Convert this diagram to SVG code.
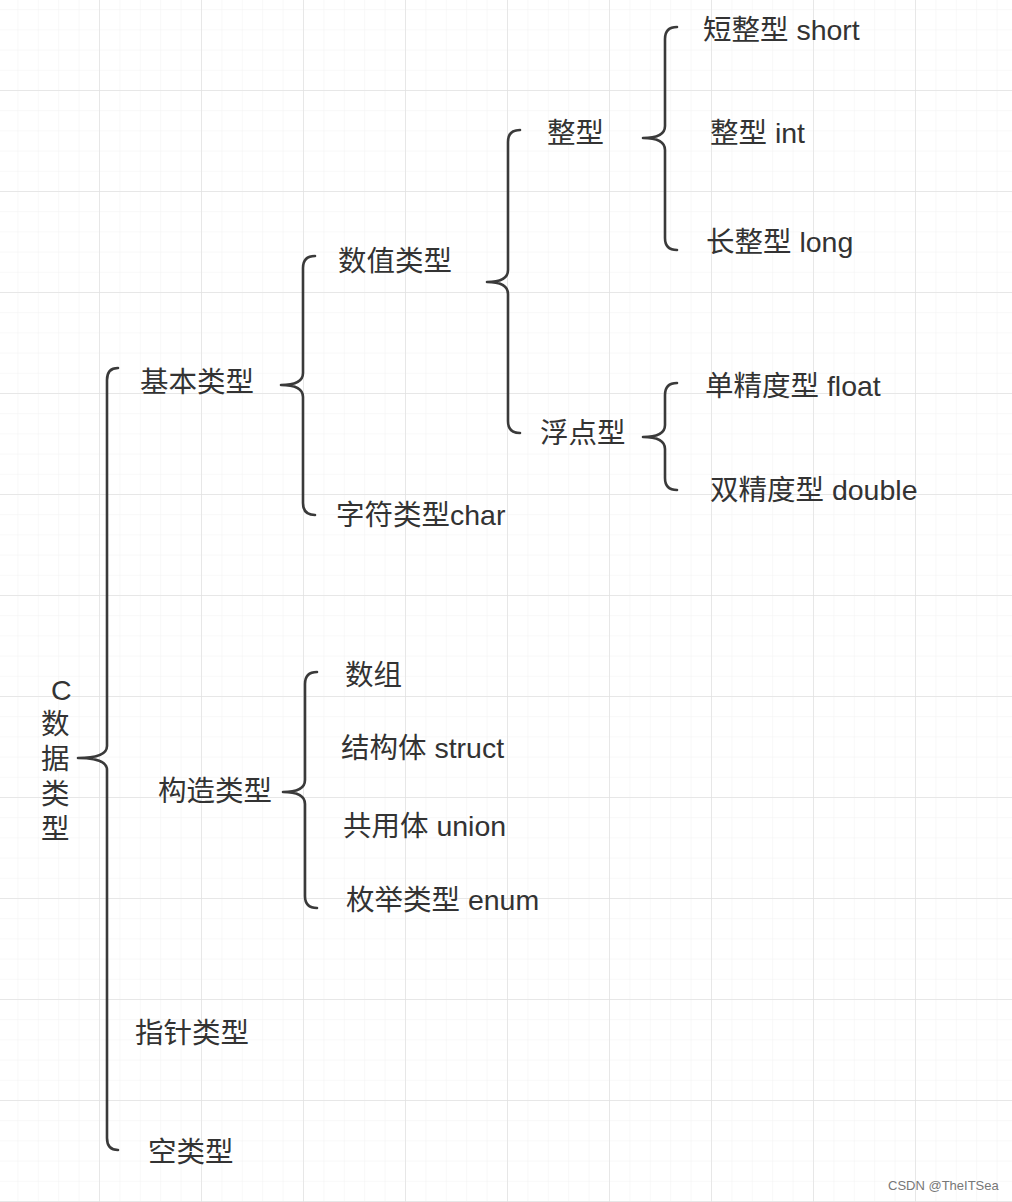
<svg xmlns="http://www.w3.org/2000/svg" width="1012" height="1202" viewBox="0 0 1012 1202">
<style>
.t{font-family:"Liberation Sans","Noto Sans CJK SC",sans-serif;font-size:28.5px;fill:#333;dominant-baseline:central}
.b{fill:none;stroke:#3a3a3a;stroke-width:2.6;stroke-linecap:round;stroke-linejoin:round}
.wm{font-family:"Liberation Sans",Arial,sans-serif;font-size:13px;fill:#777}
</style>
<defs>
<pattern id="minor" patternUnits="userSpaceOnUse" x="99" y="90" width="20.4" height="20.2">
<path d="M0 0V20.2M0 0H20.4" stroke="#f2f2f2" stroke-width="1" fill="none"/>
</pattern>
<pattern id="major" patternUnits="userSpaceOnUse" x="99" y="90" width="102" height="101">
<path d="M0 0V101M0 0H102" stroke="#e2e2e2" stroke-width="1.5" fill="none"/>
</pattern>
</defs>
<rect width="1012" height="1202" fill="#fff"/>
<rect width="1012" height="1202" fill="url(#minor)"/>
<rect width="1012" height="1202" fill="url(#major)"/>
<g id="connectors">
<path class="b" d="M118 368 Q107 368 107 380 V746 Q107 758 78 758 Q107 758 107 770 V1138 Q107 1150 118 1150"/>
<path class="b" d="M315 256 Q303 256 303 268 V373 Q303 385 281 385 Q303 385 303 397 V503 Q303 515 315 515"/>
<path class="b" d="M520 130 Q508 130 508 142 V270 Q508 282 487 282 Q508 282 508 294 V421 Q508 433 520 433"/>
<path class="b" d="M677 27 Q665 27 665 39 V126 Q665 138 643 138 Q665 138 665 150 V238 Q665 250 677 250"/>
<path class="b" d="M677 383 Q665 383 665 395 V425 Q665 437 643 437 Q665 437 665 449 V478 Q665 490 677 490"/>
<path class="b" d="M317 672 Q305 672 305 684 V780 Q305 792 283 792 Q305 792 305 804 V896 Q305 908 317 908"/>
</g>
<g id="root"><text class="t" x="51" y="690">C</text><text class="t" x="41" y="724">数</text><text class="t" x="41" y="759">据</text><text class="t" x="41" y="794">类</text><text class="t" x="41" y="829">型</text></g>
<g id="n-basic"><text class="t" x="140" y="382">基本类型</text></g>
<g id="n-numeric"><text class="t" x="338" y="261">数值类型</text></g>
<g id="n-int"><text class="t" x="547" y="133">整型</text></g>
<g id="n-short"><text class="t" x="703" y="30">短整型 short</text></g>
<g id="n-intint"><text class="t" x="710" y="133">整型 int</text></g>
<g id="n-long"><text class="t" x="706" y="242">长整型 long</text></g>
<g id="n-float-group"><text class="t" x="540" y="433">浮点型</text></g>
<g id="n-float"><text class="t" x="705" y="386">单精度型 float</text></g>
<g id="n-double"><text class="t" x="710" y="490">双精度型 double</text></g>
<g id="n-char"><text class="t" x="336" y="515">字符类型char</text></g>
<g id="n-construct"><text class="t" x="158" y="791">构造类型</text></g>
<g id="n-array"><text class="t" x="345" y="675">数组</text></g>
<g id="n-struct"><text class="t" x="341" y="748">结构体 struct</text></g>
<g id="n-union"><text class="t" x="343" y="826">共用体 union</text></g>
<g id="n-enum"><text class="t" x="346" y="900">枚举类型 enum</text></g>
<g id="n-pointer"><text class="t" x="135" y="1033">指针类型</text></g>
<g id="n-void"><text class="t" x="148" y="1152">空类型</text></g>
<text class="wm" x="888" y="1190">CSDN @TheITSea</text>
</svg>
